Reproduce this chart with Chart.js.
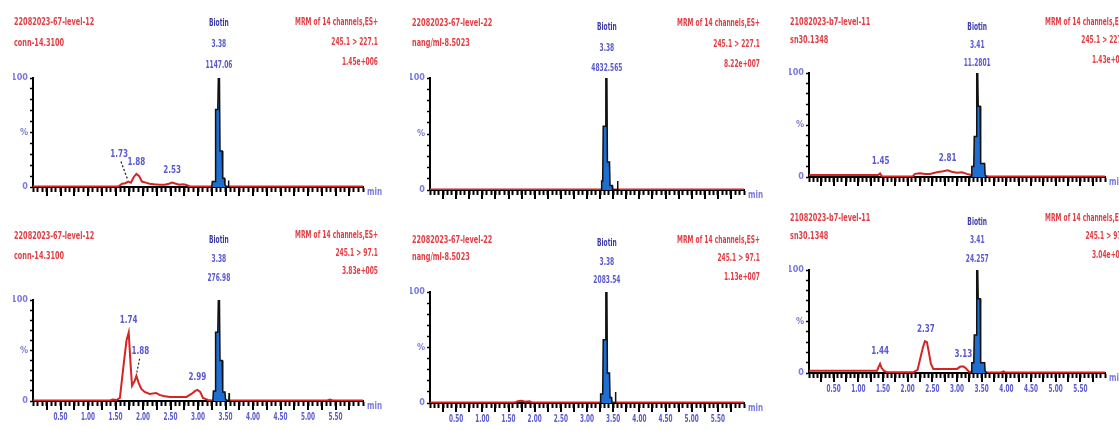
<!DOCTYPE html>
<html>
<head>
<meta charset="utf-8">
<script src="https://cdn.jsdelivr.net/npm/chart.js@4.4.1/dist/chart.umd.min.js"></script>
<style>
  html, body { margin: 0; padding: 0; background: #fff; }
  #wrap { position: relative; width: 1119px; height: 430px; overflow: hidden; }
  #wrap canvas { position: absolute; left: 0; top: 0; }
</style>
</head>
<body>
<div id="wrap">
  <canvas id="c0" width="1119" height="430"></canvas>
  <canvas id="c1" width="1119" height="430"></canvas>
  <canvas id="c2" width="1119" height="430"></canvas>
  <canvas id="c3" width="1119" height="430"></canvas>
  <canvas id="c4" width="1119" height="430"></canvas>
  <canvas id="c5" width="1119" height="430"></canvas>
</div>
<script>
// ---- data (time in min, intensity in %) ----
const xTickLabels = ['0.50', '1.00', '1.50', '2.00', '2.50', '3.00', '3.50', '4.00', '4.50', '5.00', '5.50'];
const yTickLabels = { 0: '0', 50: '%', 100: '100' };

const sampleA = ['22082023-67-level-12', 'conn-14.3100'];
const sampleB = ['22082023-67-level-22', 'nang/ml-8.5023'];
const sampleC = ['21082023-b7-level-11', 'sn30.1348'];

// top-left: 245.1 > 227.1
const tlChannel = ['MRM of 14 channels,ES+', '245.1 > 227.1', '1.45e+006'];
const tlBiotin = ['Biotin', '3.38', '1147.06'];
const tlTraceT = [0, 1.55, 1.62, 1.68, 1.73, 1.78, 1.83, 1.88, 1.93, 1.98, 2.05, 2.12, 2.2, 2.3, 2.4, 2.47, 2.53, 2.6, 2.66, 2.72, 2.78, 2.85, 6.0];
const tlTraceY = [0.5, 0.5, 3, 3.5, 5, 4, 9, 12, 10, 5, 4, 3, 2.5, 2, 2, 3, 4, 3, 2, 2.5, 2, 0.5, 0.5];
const tlPeakT = [3.25, 3.26, 3.31, 3.32, 3.36, 3.37, 3.39, 3.40, 3.44, 3.45, 3.48, 3.49, 3.52, 3.55, 3.555, 3.56];
const tlPeakY = [0, 5, 5, 71, 71, 100, 100, 33, 33, 8, 8, 2, 0, 0, 6, 0];
const tlLabels = [['1.73', 1.73, 5], ['1.88', 1.88, 12], ['2.53', 2.53, 4]];

// bottom-left: 245.1 > 97.1
const blChannel = ['MRM of 14 channels,ES+', '245.1 > 97.1', '3.83e+005'];
const blBiotin = ['Biotin', '3.38', '276.98'];
const blTraceT = [0, 1.40, 1.45, 1.52, 1.58, 1.65, 1.70, 1.74, 1.77, 1.80, 1.85, 1.88, 1.92, 1.97, 2.03, 2.12, 2.24, 2.30, 2.37, 2.49, 2.67, 2.79, 2.88, 2.95, 2.99, 3.04, 3.09, 3.18, 3.25, 5.35, 5.40, 5.45, 6.0];
const blTraceY = [0.5, 0.5, 1.5, 1, 3, 37, 60, 68, 40, 15, 20, 25, 18, 12, 9, 7, 8, 6, 5, 4, 4, 4, 7, 10, 11, 9, 3, 1, 0.5, 0.5, 1.5, 0.5, 0.5];
const blPeakT = [3.27, 3.28, 3.31, 3.32, 3.36, 3.37, 3.39, 3.40, 3.44, 3.45, 3.49, 3.50, 3.53, 3.56, 3.565, 3.57];
const blPeakY = [0, 10, 10, 68, 68, 100, 100, 40, 40, 9, 9, 2, 0, 0, 8, 0];
const blLabels = [['1.74', 1.74, 68], ['1.88', 1.88, 25], ['2.99', 2.99, 11]];

// top-middle
const tmChannel = ['MRM of 14 channels,ES+', '245.1 > 227.1', '8.22e+007'];
const tmBiotin = ['Biotin', '3.38', '4832.565'];
const tmTraceT = [0, 6.0];
const tmTraceY = [0.5, 0.5];
const tmPeakT = [3.27, 3.28, 3.30, 3.31, 3.35, 3.36, 3.38, 3.39, 3.43, 3.44, 3.48, 3.49, 3.58, 3.585, 3.59];
const tmPeakY = [0, 8, 8, 57, 57, 100, 100, 25, 25, 4, 4, 0, 0, 8, 0];

// bottom-middle
const bmChannel = ['MRM of 14 channels,ES+', '245.1 > 97.1', '1.13e+007'];
const bmBiotin = ['Biotin', '3.38', '2083.54'];
const bmTraceT = [0, 1.62, 1.68, 1.75, 1.82, 1.90, 1.95, 6.0];
const bmTraceY = [0.5, 0.5, 1.5, 2, 1.2, 1.5, 0.5, 0.5];
const bmPeakT = [3.25, 3.26, 3.30, 3.31, 3.35, 3.36, 3.38, 3.39, 3.43, 3.44, 3.47, 3.48, 3.54, 3.545, 3.55];
const bmPeakY = [0, 8, 8, 57, 57, 100, 100, 27, 27, 5, 5, 0, 0, 10, 0];

// top-right
const trChannel = ['MRM of 14 channels,ES+', '245.1 > 227.1', '1.43e+005'];
const trBiotin = ['Biotin', '3.41', '11.2801'];
const trTraceT = [0, 1.40, 1.44, 1.48, 1.55, 2.10, 2.15, 2.25, 2.35, 2.45, 2.59, 2.72, 2.81, 2.89, 3.0, 3.1, 3.2, 3.28, 3.65, 6.0];
const trTraceY = [2, 2, 3.5, 0.5, 0.5, 0.5, 3, 3.5, 3, 3, 4.5, 5.5, 6.5, 5, 4, 4.5, 3, 2, 0.5, 0.5];
const trPeakT = [3.29, 3.30, 3.34, 3.35, 3.39, 3.40, 3.42, 3.43, 3.47, 3.48, 3.56, 3.57, 3.60];
const trPeakY = [0, 10, 10, 39, 39, 100, 100, 68, 68, 13, 13, 2, 0];
const trLabels = [['1.45', 1.45, 3.5], ['2.81', 2.81, 6.5]];

// bottom-right
const brChannel = ['MRM of 14 channels,ES+', '245.1 > 97.1', '3.04e+005'];
const brBiotin = ['Biotin', '3.41', '24.257'];
const brTraceT = [0, 1.38, 1.42, 1.44, 1.47, 1.52, 1.58, 2.12, 2.20, 2.26, 2.31, 2.35, 2.39, 2.43, 2.47, 2.52, 2.58, 3.0, 3.06, 3.12, 3.17, 3.24, 3.30, 3.62, 3.90, 3.94, 3.98, 6.0];
const brTraceY = [2.3, 2.3, 7, 9, 5, 2, 0.8, 0.8, 3, 15, 25, 31, 30, 20, 9, 4, 4, 4, 6, 6.5, 5, 1.5, 1, 0.5, 0.5, 1.5, 0.5, 0.5];
const brPeakT = [3.29, 3.30, 3.34, 3.35, 3.39, 3.40, 3.42, 3.43, 3.47, 3.48, 3.56, 3.57, 3.60];
const brPeakY = [0, 10, 10, 37, 37, 100, 100, 72, 72, 10, 10, 2, 0];
const brLabels = [['1.44', 1.44, 9], ['2.37', 2.37, 31], ['3.13', 3.13, 6.5]];

// ---- look ----
const RED = '#d42424';
const RED_TXT = '#e23e44';
const BLUE_TXT = '#5a5ad0';
const BLUE_DARK = '#3a3aa8';
const BLUE_FILL = '#1f6fd2';
const FONT = '"DejaVu Sans Condensed", "DejaVu Sans", sans-serif';
const YW = 20;   // forced y axis width
const XH = 28;   // forced x axis height

// label offsets for peaks that carry a leader line
const leaders = { c0: { '1.73': [-9, -27] }, c1: { '1.88': [4, -24] } };

const panels = [
  { id: 'c0', area: { left: 33, right: 363, top: 78, bottom: 187 }, sample: sampleA, channel: tlChannel, biotin: tlBiotin,
    traceT: tlTraceT, traceY: tlTraceY, peakT: tlPeakT, peakY: tlPeakY, labels: tlLabels, ticks: false,
    pos: { lx: 14, ly: [22, 43], rx: 378, ry: [22, 42, 62], by: [23, 44, 65] } },
  { id: 'c1', area: { left: 33, right: 363, top: 300, bottom: 401 }, sample: sampleA, channel: blChannel, biotin: blBiotin,
    traceT: blTraceT, traceY: blTraceY, peakT: blPeakT, peakY: blPeakY, labels: blLabels, ticks: true,
    pos: { lx: 14, ly: [236, 256], rx: 378, ry: [235, 253, 271], by: [240, 259, 278] } },
  { id: 'c2', area: { left: 430, right: 744, top: 78, bottom: 190 }, sample: sampleB, channel: tmChannel, biotin: tmBiotin,
    traceT: tmTraceT, traceY: tmTraceY, peakT: tmPeakT, peakY: tmPeakY, labels: [], ticks: false,
    pos: { lx: 412, ly: [23, 43], rx: 760, ry: [23, 44, 64], by: [27, 48, 68] } },
  { id: 'c3', area: { left: 430, right: 744, top: 292, bottom: 403 }, sample: sampleB, channel: bmChannel, biotin: bmBiotin,
    traceT: bmTraceT, traceY: bmTraceY, peakT: bmPeakT, peakY: bmPeakY, labels: [], ticks: true,
    pos: { lx: 412, ly: [240, 257], rx: 760, ry: [240, 258, 277], by: [243, 262, 280] } },
  { id: 'c4', area: { left: 809, right: 1105, top: 73, bottom: 177 }, sample: sampleC, channel: trChannel, biotin: trBiotin,
    traceT: trTraceT, traceY: trTraceY, peakT: trPeakT, peakY: trPeakY, labels: trLabels, ticks: false,
    pos: { lx: 790, ly: [22, 40], rx: 1128, ry: [22, 40, 60], by: [27, 45, 63] } },
  { id: 'c5', area: { left: 809, right: 1105, top: 270, bottom: 373 }, sample: sampleC, channel: brChannel, biotin: brBiotin,
    traceT: brTraceT, traceY: brTraceY, peakT: brPeakT, peakY: brPeakY, labels: brLabels, ticks: true,
    pos: { lx: 790, ly: [218, 236], rx: 1128, ry: [218, 236, 255], by: [222, 240, 259] } }
];

function pts(ts, ys) {
  return ts.map((t, i) => ({ x: t, y: ys[i] }));
}

function txt(ctx, s, x, y, align, color, size, sx, weight) {
  ctx.save();
  ctx.font = (weight || 'normal') + ' ' + size + 'px ' + FONT;
  ctx.fillStyle = color;
  ctx.textAlign = align;
  ctx.textBaseline = 'middle';
  ctx.translate(x, y);
  ctx.scale(sx, 1);
  ctx.fillText(s, 0, 0);
  ctx.restore();
}

const minorTicks = [];
for (let i = 0; i <= 72; i++) minorTicks.push(i / 12);
const yTicks = [0, 10, 20, 30, 40, 50, 60, 70, 80, 90, 100];

const annotate = {
  id: 'annotate',
  afterDraw(chart, args, opts) {
    const p = opts.panel;
    const ctx = chart.ctx;
    const xs = chart.scales.x, ys = chart.scales.y;
    const a = chart.chartArea;

    // longer ticks every quarter minute
    ctx.save();
    ctx.strokeStyle = '#000';
    ctx.lineWidth = 2;
    for (let v = 0.25; v < 6; v += 0.25) {
      const x = Math.round(xs.getPixelForValue(v));
      ctx.beginPath();
      ctx.moveTo(x, a.bottom);
      ctx.lineTo(x, a.bottom + 9);
      ctx.stroke();
    }
    ctx.restore();

    // header texts
    txt(ctx, p.sample[0], p.pos.lx, p.pos.ly[0], 'left', RED_TXT, 11, 0.66, 'bold');
    txt(ctx, p.sample[1], p.pos.lx, p.pos.ly[1], 'left', RED_TXT, 11, 0.66, 'bold');
    p.channel.forEach((s, i) => txt(ctx, s, p.pos.rx, p.pos.ry[i], 'right', RED_TXT, 11, 0.6, 'bold'));

    // biotin block centred on its retention time
    const bx = xs.getPixelForValue(parseFloat(p.biotin[1]));
    txt(ctx, p.biotin[0], bx, p.pos.by[0], 'center', BLUE_DARK, 11, 0.6, 'bold');
    txt(ctx, p.biotin[1], bx, p.pos.by[1], 'center', BLUE_TXT, 11, 0.6, 'bold');
    txt(ctx, p.biotin[2], bx, p.pos.by[2], 'center', BLUE_TXT, 11, 0.6, 'bold');

    // small peak labels
    const lead = leaders[p.id] || {};
    p.labels.forEach(([s, t, h]) => {
      const px = xs.getPixelForValue(t), py = ys.getPixelForValue(h);
      if (lead[s]) {
        const lx = px + lead[s][0], ly = py + lead[s][1];
        txt(ctx, s, lx, ly, 'center', BLUE_TXT, 10, 0.8, 'bold');
        ctx.save();
        ctx.strokeStyle = '#222';
        ctx.lineWidth = 1.2;
        ctx.setLineDash([2, 2]);
        ctx.beginPath();
        ctx.moveTo(lx + (px - lx) * 0.2, ly + 7);
        ctx.lineTo(px - (px - lx) * 0.1, py - 3);
        ctx.stroke();
        ctx.restore();
      } else {
        txt(ctx, s, px, py - 12, 'center', BLUE_TXT, 10, 0.8, 'bold');
      }
    });

    // x tick labels on the bottom row
    if (p.ticks) {
      xTickLabels.forEach(s => {
        txt(ctx, s, xs.getPixelForValue(parseFloat(s)), a.bottom + 16, 'center', BLUE_TXT, 11, 0.58, 'bold');
      });
    }
    txt(ctx, 'min', a.right + 4, a.bottom + 5, 'left', '#7a7ae0', 10, 0.8, 'bold');
  }
};

panels.forEach(p => {
  new Chart(document.getElementById(p.id), {
    type: 'line',
    data: {
      datasets: [
        {
          data: pts(p.peakT, p.peakY),
          borderColor: '#111',
          backgroundColor: BLUE_FILL,
          borderWidth: 1.5,
          pointRadius: 0,
          fill: 'origin',
          order: 0
        },
        {
          data: pts(p.traceT, p.traceY),
          borderColor: RED,
          borderWidth: 2,
          pointRadius: 0,
          fill: false,
          order: 1
        }
      ]
    },
    options: {
      responsive: false,
      animation: false,
      events: [],
      layout: {
        padding: {
          left: p.area.left - YW,
          right: 1119 - p.area.right,
          top: p.area.top,
          bottom: 430 - p.area.bottom - XH
        }
      },
      plugins: {
        legend: { display: false },
        tooltip: { enabled: false },
        annotate: { panel: p }
      },
      scales: {
        x: {
          type: 'linear',
          min: 0,
          max: 6,
          afterFit: s => { s.height = XH; },
          afterBuildTicks: s => { s.ticks = minorTicks.map(v => ({ value: v })); },
          ticks: { autoSkip: false, maxRotation: 0, callback: () => '' },
          grid: { drawOnChartArea: false, tickLength: 5, tickColor: '#000', tickWidth: 2 },
          border: { color: '#000', width: 2 }
        },
        y: {
          min: 0,
          max: 100,
          afterFit: s => { s.width = YW; },
          afterBuildTicks: s => { s.ticks = yTicks.map(v => ({ value: v })); },
          ticks: {
            autoSkip: false,
            padding: 2,
            color: '#7a7ae0',
            font: { family: FONT, size: 9, weight: 'bold' },
            callback: v => yTickLabels[v] || ''
          },
          grid: { drawOnChartArea: false, tickLength: 3, tickColor: '#000', tickWidth: 1.5 },
          border: { color: '#000', width: 2 }
        }
      }
    },
    plugins: [annotate]
  });
});
</script>
</body>
</html>
